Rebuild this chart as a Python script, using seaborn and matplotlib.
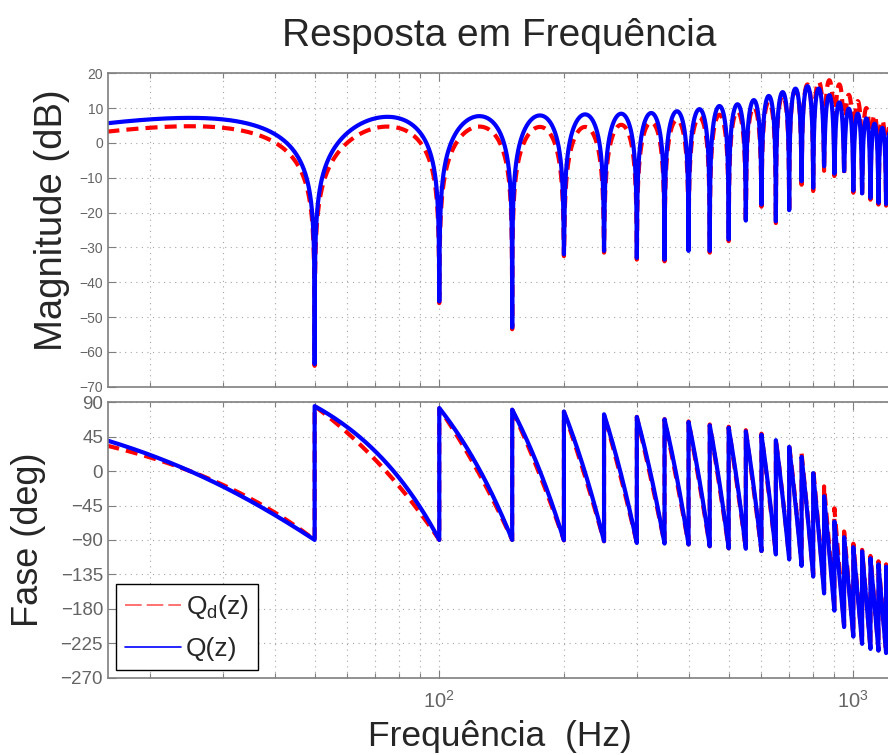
import numpy as np
import pandas as pd
import matplotlib
matplotlib.use("Agg")
import matplotlib.pyplot as plt
import seaborn as sns
from matplotlib.lines import Line2D
from matplotlib.ticker import FixedLocator, LogLocator, NullFormatter

# ------------------------------------------------------------------
# Data
# ------------------------------------------------------------------
# lobe edges (the notches sit at multiples of 50 Hz)
lobe_edges_hz = [0, 50, 100, 150, 200, 250, 300, 350, 400, 450, 500, 550, 600,
                 650, 700, 750, 800, 850, 900, 950, 1000, 1050, 1100, 1150,
                 1200, 1250, 1300]
f_first_hz = 15.0

# notch depth (dB) at the right edge of each lobe (50 ... 1300 Hz)
notch_db_Q = [-63.5, -45.5, -53.0, -32.0, -31.0, -33.0, -33.5, -31.0, -31.0,
              -27.7, -22.3, -17.7, -22.5, -19.3, -11.0, -12.9, -6.7, -8.8,
              -8.1, -13.7, -14.5, -15.8, -17.2, -17.5, -18.0, -18.5]
notch_db_Qd = [-64.0, -46.0, -53.5, -32.5, -31.5, -33.5, -34.0, -31.5, -31.5,
               -28.2, -23.0, -18.3, -23.0, -20.0, -12.0, -13.8, -8.0, -9.5,
               -9.0, -14.3, -15.0, -16.3, -17.7, -18.0, -18.5, -19.0]

# lobe peak magnitude (dB), one per lobe (centres 25, 75, ... 1275 Hz)
peak_db_Q = [7.2, 7.5, 7.7, 7.9, 8.2, 8.4, 8.6, 9.1, 9.7, 10.6, 11.1, 12.3,
             13.5, 14.6, 15.6, 16.3, 15.6, 13.7, 11.6, 9.8, 8.4, 7.0, 5.5,
             4.3, 3.2, 2.2]
peak_db_Qd = [4.8, 4.7, 4.7, 4.6, 4.6, 5.2, 5.9, 6.6, 7.3, 8.1, 9.0, 10.2,
              11.8, 13.5, 15.3, 16.8, 17.6, 18.0, 16.8, 13.8, 12.0, 10.0, 8.0,
              6.5, 5.0, 3.8]

# phase (deg) at start, middle and end of every lobe
ph_start_Q = [117, 85, 82.5, 80.4, 78, 74.3, 70.8, 67.7, 64.2, 59.9, 56.8, 52,
              47.6, 40.4, 31.7, 18.7, -2.6, -33, -66, -86.5, -99.5, -105,
              -114, -122, -125, -130]
ph_mid_Q = [0, 9, 2, 0, -2, -5, -7, -9, -12, -15.5, -17.5, -21.5, -26, -34,
            -43, -57, -80, -107, -135, -151.5, -162.8, -168.8, -174.4, -180,
            -182.5, -186]
ph_end_Q = [-90, -90, -90, -90.5, -91.7, -94, -94.8, -96, -98.3, -101, -101.6,
            -104.6, -109, -115.5, -124, -138, -160, -182.6, -204, -216.5, -226,
            -232.6, -234.8, -238, -240, -242]

ph_start_Qd = [90, 85, 82, 80, 77.5, 74, 71, 68, 65, 61, 58, 53.5, 49, 42, 34,
               23, 3, -20, -48.7, -79, -95, -103, -111, -118, -122, -127]
ph_mid_Qd = [0, -2.5, -4, -5.3, -7.1, -10, -11.9, -14, -16.7, -20, -21.8,
             -25.6, -29.5, -33, -40, -56, -76.5, -99.5, -125.4, -147, -160,
             -167.5, -172.8, -178, -181, -184.5]
ph_end_Qd = [-90, -90, -90, -90.5, -91.7, -94, -94.8, -96, -98.3, -101, -101.6,
             -104.6, -108, -114, -122, -135, -156, -179, -202, -215, -225,
             -232, -234.5, -238, -240, -242]

series_names = ["Qd", "Q"]
legend_labels = ["Q$_{d}$(z)", "Q(z)"]
mag_ticks = [20, 10, 0, -10, -20, -30, -40, -50, -60, -70]
phase_ticks = [90, 45, 0, -45, -90, -135, -180, -225, -270]
x_major_ticks = [100, 1000]
x_tick_labels = ["$10^{2}$", "$10^{3}$"]

title_text = "Resposta em Frequência"
xlabel_text = "Frequência  (Hz)"
ylabel_mag = "Magnitude (dB)"
ylabel_phase = "Fase (deg)"


def build(name, notch_db, peak_db, ph0, phm, ph1):
    t = np.linspace(0.0, 1.0, 900)
    ucos = (1.0 - np.cos(np.pi * t)) / 2.0
    rows = []
    for k in range(len(peak_db)):
        f0, f1 = lobe_edges_hz[k], lobe_edges_hz[k + 1]
        if k == 0:
            umin = f_first_hz / (f1 - f0)
            u = umin + (1 - umin) * ucos
            dl = notch_db[0]
        else:
            u = ucos
            dl = notch_db[k - 1]
        dr = notch_db[k]
        pk = peak_db[k]
        el = 10 ** ((dl - pk) / 10.0)
        er = 10 ** ((dr - pk) / 10.0)
        a2 = np.sin(np.pi * u) ** 2 + el * (1 - u) + er * u
        mag = pk + 10 * np.log10(a2)
        s, m, e = ph0[k], phm[k], ph1[k]
        ph = (s * 2 * (u - 0.5) * (u - 1) - m * 4 * u * (u - 1)
              + e * 2 * u * (u - 0.5))
        f = f0 + (f1 - f0) * u
        rows.append(pd.DataFrame({"f": f, "mag": mag, "fase": ph,
                                  "serie": name}))
    return pd.concat(rows, ignore_index=True)


df = pd.concat([
    build("Qd", notch_db_Qd, peak_db_Qd, ph_start_Qd, ph_mid_Qd, ph_end_Qd),
    build("Q", notch_db_Q, peak_db_Q, ph_start_Q, ph_mid_Q, ph_end_Q),
], ignore_index=True)

# ------------------------------------------------------------------
sns.set_style("white")
plt.rcParams["font.family"] = ["Liberation Sans", "DejaVu Sans"]
plt.rcParams["mathtext.default"] = "regular"
plt.rcParams["mathtext.fontset"] = "custom"
plt.rcParams["mathtext.rm"] = "Liberation Sans"
plt.rcParams["mathtext.it"] = "Liberation Sans"

W, H = 888, 755
fig = plt.figure(figsize=(W / 100, H / 100), dpi=100)


def rect(l, t, r, b):
    return [l / W, 1 - b / H, (r - l) / W, (b - t) / H]


ax1 = fig.add_axes(rect(107.5, 73.3, 897, 386.7))
ax2 = fig.add_axes(rect(107.5, 402.3, 897, 677.5))

palette = {"Qd": "#ff0000", "Q": "#0000ff"}
dashes = {"Qd": (2.9, 1.7), "Q": ""}

for ax, col in ((ax1, "mag"), (ax2, "fase")):
    sns.lineplot(data=df, x="f", y=col, hue="serie", style="serie",
                 hue_order=series_names, style_order=series_names,
                 palette=palette, dashes=dashes, estimator=None, sort=False,
                 linewidth=3.0, legend=False, ax=ax)

spine_col = "#7f7f7f"
grid_kw = dict(color="#a6a6a6", linestyle=(0, (1, 4)), linewidth=0.8)
for ax in (ax1, ax2):
    ax.set_xscale("log")
    ax.set_xlim(15.8, 1275)
    ax.xaxis.set_major_locator(FixedLocator(x_major_ticks))
    ax.xaxis.set_minor_locator(LogLocator(base=10, subs=np.arange(2, 10)))
    ax.xaxis.set_minor_formatter(NullFormatter())
    ax.grid(True, which="major", axis="both", **grid_kw)
    ax.grid(True, which="minor", axis="x", **grid_kw)
    ax.set_xlabel("")
    ax.set_ylabel("")
    for side in ("left", "top", "bottom"):
        ax.spines[side].set_color(spine_col)
        ax.spines[side].set_linewidth(1.2)
    ax.spines["right"].set_visible(False)
    ax.tick_params(which="both", direction="in", top=True, bottom=True,
                   left=True, right=False, color=spine_col,
                   labelcolor="#646464")
    ax.tick_params(which="major", length=6, width=0.8)
    ax.tick_params(which="minor", length=3.5, width=0.8)
    ax.set_axisbelow(True)

ax1.set_ylim(-70, 20)
ax1.set_yticks(mag_ticks)
ax1.tick_params(axis="y", labelsize=10, pad=3.2)
ax1.tick_params(axis="x", labelbottom=False)

ax2.set_ylim(-270, 90)
ax2.set_yticks(phase_ticks)
ax2.tick_params(axis="y", labelsize=13.5, pad=3.2)
ax2.set_xticklabels(x_tick_labels)
ax2.tick_params(axis="x", which="major", labelsize=14.5, pad=9)

fig.text(499.5 / W, 1 - 46 / H, title_text, ha="center", va="baseline",
         fontsize=28)
fig.text(62 / W, 1 - 220 / H, ylabel_mag, rotation=90, rotation_mode="anchor",
         ha="center", va="baseline", fontsize=27.5)
fig.text(38 / W, 1 - 540 / H, ylabel_phase, rotation=90,
         rotation_mode="anchor", ha="center", va="baseline", fontsize=26)
fig.text(500 / W, 1 - 746 / H, xlabel_text, ha="center", va="baseline",
         fontsize=25.5)

handles = [Line2D([], [], color="#ff5a5a", linestyle=(0, (10, 3)), lw=1.2),
           Line2D([], [], color="#0000ff", lw=1.2)]
leg = ax2.legend(handles=handles, labels=legend_labels, loc="upper left",
                 bbox_to_anchor=(116 / W, 1 - 584 / H),
                 bbox_transform=fig.transFigure, frameon=True, fancybox=False,
                 edgecolor="black", facecolor="white", framealpha=1,
                 fontsize=19, handlelength=2.1, handletextpad=0.2,
                 borderpad=0.35, labelspacing=0.6, borderaxespad=0)
leg.get_frame().set_linewidth(1.0)

fig.savefig("out.png", dpi=100)
